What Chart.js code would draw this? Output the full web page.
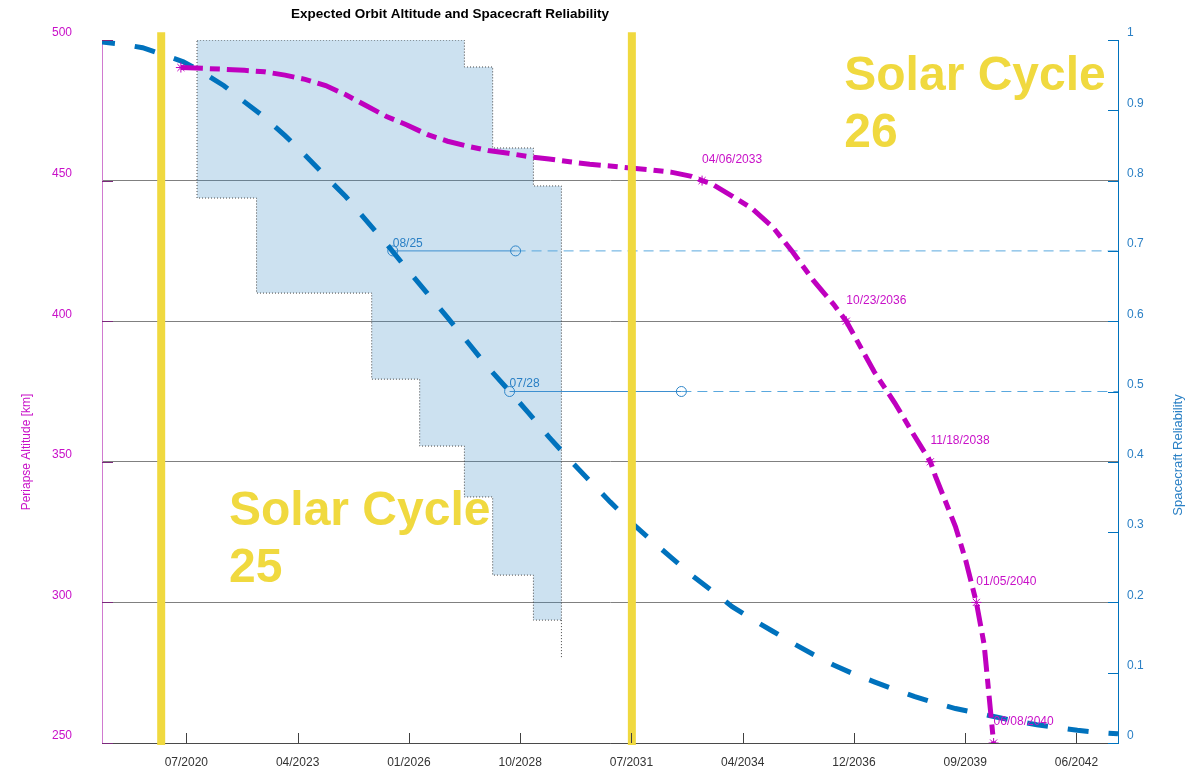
<!DOCTYPE html>
<html>
<head>
<meta charset="utf-8">
<title>Expected Orbit Altitude and Spacecraft Reliability</title>
<script src="https://cdn.jsdelivr.net/npm/chart.js@4.4.1/dist/chart.umd.min.js"></script>
<style>
  html, body { margin: 0; padding: 0; background: #fff; }
</style>
</head>
<body>
<canvas id="orbitChart" width="1199" height="770"></canvas>
<script>
// x axis works in days since 1970-01-01 (UTC)
const day = s => Date.UTC(+s.slice(0, 4), +s.slice(5, 7) - 1, +s.slice(8, 10)) / 864e5;

const xRange = ['2018-07-01', '2043-07-01'];
const tickDates = ['2020-07-28', '2023-04-24', '2026-01-18', '2028-10-14', '2031-07-11',
                   '2034-04-06', '2036-12-31', '2039-09-27', '2042-06-23'];
const tickLabels = ['07/2020', '04/2023', '01/2026', '10/2028', '07/2031',
                    '04/2034', '12/2036', '09/2039', '06/2042'];

// periapse altitude [km]
const altDates = ['2020-06-09', '2021-01-01', '2021-07-01', '2022-01-01', '2022-07-01', '2023-01-01',
  '2023-07-01', '2024-01-01', '2024-07-01', '2025-01-01', '2025-07-01', '2026-01-01', '2026-07-01',
  '2027-01-01', '2027-07-01', '2028-01-01', '2028-07-01', '2029-01-01', '2029-07-01', '2030-01-01',
  '2030-07-01', '2031-01-01', '2031-07-01', '2032-01-01', '2032-07-01', '2033-01-01', '2033-04-06',
  '2033-07-01', '2034-01-01', '2034-07-01', '2035-01-01', '2035-07-01', '2036-01-01', '2036-07-01',
  '2036-10-23', '2037-01-01', '2037-07-01', '2038-01-01', '2038-07-01', '2038-11-18', '2039-01-01',
  '2039-07-01', '2039-10-01', '2040-01-05', '2040-03-15', '2040-06-08'];
const altValues = [490.2, 489.9, 489.6, 489.2, 488.7, 487.5,
  486.0, 483.8, 480.5, 476.6, 472.8, 469.8, 466.4,
  464.0, 462.2, 460.7, 459.7, 458.5, 457.7, 456.7,
  455.8, 455.2, 454.5, 453.8, 453.0, 451.5, 450.0,
  448.9, 444.5, 440.0, 433.5, 424.5, 414.5, 406.0,
  400.0, 395.0, 382.0, 371.0, 359.0, 350.0, 345.0,
  327.0, 315.0, 300.0, 285.0, 250.0];

const markerDates = ['2020-06-09', '2033-04-06', '2036-10-23', '2038-11-18', '2040-01-05', '2040-06-08'];
const markerAlts = [490.2, 450, 400, 350, 300, 250];
const markerLabels = ['', '04/06/2033', '10/23/2036', '11/18/2038', '01/05/2040', '06/08/2040'];

// spacecraft reliability
const relDates = ['2018-07-01', '2019-01-01', '2019-07-01', '2020-01-01', '2020-07-01', '2021-01-01',
  '2021-07-01', '2022-01-01', '2022-07-01', '2023-01-01', '2023-07-01', '2024-01-01', '2024-07-01',
  '2025-01-01', '2025-07-01', '2026-01-01', '2026-07-01', '2027-01-01', '2027-07-01', '2028-01-01',
  '2028-07-01', '2029-01-01', '2029-07-01', '2030-01-01', '2030-07-01', '2031-01-01', '2031-07-01',
  '2032-01-01', '2032-07-01', '2033-01-01', '2033-07-01', '2034-01-01', '2034-07-01', '2035-01-01',
  '2035-07-01', '2036-01-01', '2036-07-01', '2037-01-01', '2037-07-01', '2038-01-01', '2038-07-01',
  '2039-01-01', '2039-07-01', '2040-01-01', '2040-07-01', '2041-01-01', '2041-07-01', '2042-01-01',
  '2042-07-01', '2043-01-01', '2043-07-01'];
const relValues = [0.997, 0.994, 0.989, 0.979, 0.969, 0.953,
  0.935, 0.912, 0.890, 0.864, 0.836, 0.806, 0.777,
  0.743, 0.710, 0.674, 0.640, 0.605, 0.570, 0.534,
  0.502, 0.469, 0.435, 0.403, 0.373, 0.343, 0.315,
  0.289, 0.264, 0.239, 0.217, 0.194, 0.176, 0.159,
  0.142, 0.126, 0.111, 0.098, 0.087, 0.076, 0.066,
  0.057, 0.049, 0.043, 0.037, 0.031, 0.026, 0.022,
  0.018, 0.015, 0.013];

const relLevels = [0.7, 0.5];
const relReached = ['2025-08-26', '2028-07-11'];
const relReachedLabels = ['08/25', '07/28'];
const relLineEnds = ['2028-09-03', '2032-10-02'];

// stepped altitude band
const shadeEdges = ['2020-11-01', '2022-04-20', '2025-02-18', '2026-04-25', '2027-06-01',
                    '2028-02-10', '2029-02-10', '2029-10-20'];
const shadeTop = [500, 500, 500, 500, 490.4, 461.6, 448.1];
const shadeBottom = [443.8, 410.0, 379.4, 355.6, 337.5, 309.7, 293.7];
const shadeTail = 280.2;

const cycleStarts = ['2019-12-15', '2031-07-15'];
const cycleNames = [['Solar Cycle', '25'], ['Solar Cycle', '26']];
const cycleTextAt = [['2021-08-15', 327.5], ['2036-10-05', 482.2]];

const C_ALT = '#BF00BF';
const C_ALT_TXT = '#C810C8';
const C_REL = '#0072BD';
const C_REL_TXT = '#2B80C5';
const C_SUN = '#F0D93F';
const FONT = "'Liberation Sans', Arial, Helvetica, sans-serif";

Chart.defaults.font.family = FONT;
Chart.defaults.font.size = 12;

const pts = (dates, vals) => dates.map((d, i) => ({ x: day(d), y: vals[i] }));

// outline of the band, walked clockwise
const shadePoly = [];
shadeTop.forEach((v, i) => {
  shadePoly.push({ x: day(shadeEdges[i]), y: v }, { x: day(shadeEdges[i + 1]), y: v });
});
for (let i = shadeBottom.length - 1; i >= 0; i--) {
  shadePoly.push({ x: day(shadeEdges[i + 1]), y: shadeBottom[i] }, { x: day(shadeEdges[i]), y: shadeBottom[i] });
}
shadePoly.push({ ...shadePoly[0] });
const lastEdge = day(shadeEdges[shadeEdges.length - 1]);

const datasets = [
  ...cycleStarts.map(d => ({
    data: [{ x: day(d), y: 249.3 }, { x: day(d), y: 502.8 }],
    yAxisID: 'y', borderColor: C_SUN, borderWidth: 8, borderCapStyle: 'butt',
    pointRadius: 0, clip: false, order: 0
  })),
  {
    data: pts(markerDates, markerAlts), yAxisID: 'y', showLine: false,
    pointStyle: 'star', pointRadius: 5, pointBorderColor: C_ALT, pointBorderWidth: 1, order: 1
  },
  {
    data: pts(altDates, altValues), yAxisID: 'y', borderColor: C_ALT, borderWidth: 5,
    borderDash: [22, 7, 10, 7], pointRadius: 0, order: 2
  },
  {
    data: pts(relDates, relValues), yAxisID: 'y1', borderColor: C_REL, borderWidth: 5,
    borderDash: [21, 20], borderDashOffset: 8, pointRadius: 0, order: 3
  },
  ...relLevels.map((lv, i) => ({
    data: [{ x: day(relReached[i]), y: lv }, { x: day(relLineEnds[i]), y: lv }],
    yAxisID: 'y1', borderColor: '#3D8FD0', borderWidth: 1,
    pointRadius: 5, pointStyle: 'circle', pointBorderColor: '#2F85C8',
    pointBackgroundColor: 'rgba(0,0,0,0)', pointBorderWidth: 1, order: 4
  })),
  ...relLevels.map((lv, i) => ({
    data: [{ x: day(relLineEnds[i]), y: lv }, { x: day(xRange[1]), y: lv }],
    yAxisID: 'y1', borderColor: '#5AA8DE', borderWidth: 1, borderDash: [10, 6],
    pointRadius: 0, order: 4
  })),
  {
    data: shadePoly, yAxisID: 'y', fill: 'shape', backgroundColor: 'rgba(51,135,195,0.25)',
    borderColor: '#444', borderWidth: 1, borderDash: [1, 2], pointRadius: 0, order: 9
  },
  {
    data: [{ x: lastEdge, y: shadeBottom[shadeBottom.length - 1] }, { x: lastEdge, y: shadeTail }],
    yAxisID: 'y', borderColor: '#444', borderWidth: 1, borderDash: [1, 2], pointRadius: 0, order: 9
  }
];

// texts, inner tick marks and labels
const decorations = {
  id: 'decorations',
  afterDatasetsDraw(chart) {
    const { ctx, scales: { x, y, y1 } } = chart;
    ctx.save();
    ctx.textBaseline = 'middle';
    ctx.textAlign = 'left';

    // date labels next to altitude markers
    ctx.fillStyle = C_ALT_TXT;
    ctx.font = '12px ' + FONT;
    markerLabels.forEach((t, i) => {
      if (!t) return;
      ctx.fillText(t, x.getPixelForValue(day(markerDates[i])), y.getPixelForValue(markerAlts[i]) - 21);
    });

    // reliability threshold labels
    ctx.fillStyle = C_REL_TXT;
    relReachedLabels.forEach((t, i) => {
      ctx.fillText(t, x.getPixelForValue(day(relReached[i])), y1.getPixelForValue(relLevels[i]) - 7.5);
    });

    // solar cycle names
    ctx.fillStyle = C_SUN;
    ctx.font = 'bold 48px ' + FONT;
    ctx.textBaseline = 'alphabetic';
    cycleNames.forEach((lines, i) => {
      const px = x.getPixelForValue(day(cycleTextAt[i][0]));
      const py = y.getPixelForValue(cycleTextAt[i][1]);
      lines.forEach((ln, k) => ctx.fillText(ln, px, py + k * 57));
    });
    ctx.restore();
  },
  afterDraw(chart) {
    const { ctx, chartArea: a, scales: { x, y, y1 } } = chart;
    ctx.save();
    ctx.lineWidth = 1;
    const seg = (x0, y0, x1, y1_) => { ctx.beginPath(); ctx.moveTo(x0, y0); ctx.lineTo(x1, y1_); ctx.stroke(); };

    ctx.strokeStyle = '#404040';
    x.ticks.forEach(t => {
      const px = Math.round(x.getPixelForValue(t.value)) + 0.5;
      seg(px, a.bottom, px, a.bottom - 10);
    });
    ctx.strokeStyle = '#7A2A7A';
    y.ticks.forEach(t => {
      const py = Math.round(y.getPixelForValue(t.value)) + 0.5;
      seg(a.left, py, a.left + 11, py);
    });
    ctx.strokeStyle = C_REL;
    y1.ticks.forEach(t => {
      const py = Math.round(y1.getPixelForValue(t.value)) + 0.5;
      seg(a.right, py, a.right - 10, py);
    });

    // title and axis names
    ctx.textAlign = 'center';
    ctx.textBaseline = 'middle';
    ctx.fillStyle = '#000';
    ctx.font = 'bold 13.5px ' + FONT;
    ctx.fillText('Expected Orbit Altitude and Spacecraft Reliability', 450, 14);

    const vText = (txt, px, py, color, size) => {
      ctx.save();
      ctx.translate(px, py);
      ctx.rotate(-Math.PI / 2);
      ctx.fillStyle = color;
      ctx.font = size + 'px ' + FONT;
      ctx.fillText(txt, 0, 0);
      ctx.restore();
    };
    vText('Periapse Altitude [km]', 27, 452, C_ALT_TXT, 12);
    vText('Spacecraft Reliability', 1178, 455, C_REL_TXT, 13);
    ctx.restore();
  }
};

// fixed axis boxes so the plot area spans 102..1118 x 40..743
const fixWidth = w => s => { s.width = w; s.paddingTop = 0; s.paddingBottom = 0; };

new Chart(document.getElementById('orbitChart'), {
  type: 'line',
  data: { datasets },
  options: {
    responsive: false,
    animation: false,
    events: [],
    layout: { padding: { top: 40, left: 0, right: 0, bottom: 0 } },
    plugins: { legend: { display: false }, tooltip: { enabled: false }, title: { display: false } },
    scales: {
      x: {
        type: 'linear', min: day(xRange[0]), max: day(xRange[1]),
        afterBuildTicks: s => { s.ticks = tickDates.map(d => ({ value: day(d) })); },
        afterFit: s => { s.height = 27; s.paddingLeft = 0; s.paddingRight = 0; },
        ticks: { autoSkip: false, maxRotation: 0, padding: 12, color: '#333', callback: (v, i) => tickLabels[i] },
        grid: { display: false, drawTicks: false },
        border: { display: true, color: '#4a4a4a', width: 1 }
      },
      y: {
        position: 'left', min: 250, max: 500,
        afterFit: fixWidth(102),
        ticks: { stepSize: 50, padding: 30, labelOffset: -7, color: C_ALT_TXT },
        grid: { drawTicks: false, color: c => (c.tick && c.tick.value === 500) ? 'rgba(0,0,0,0)' : '#808080' },
        border: { color: '#D07AD0', width: 1 }
      },
      y1: {
        position: 'right', min: 0, max: 1,
        afterFit: fixWidth(81),
        ticks: { stepSize: 0.1, padding: 9, labelOffset: -7, color: C_REL_TXT, callback: v => String(+v.toFixed(1)) },
        grid: { drawOnChartArea: false, drawTicks: false },
        border: { color: C_REL, width: 1 }
      }
    }
  },
  plugins: [decorations]
});
</script>
</body>
</html>
